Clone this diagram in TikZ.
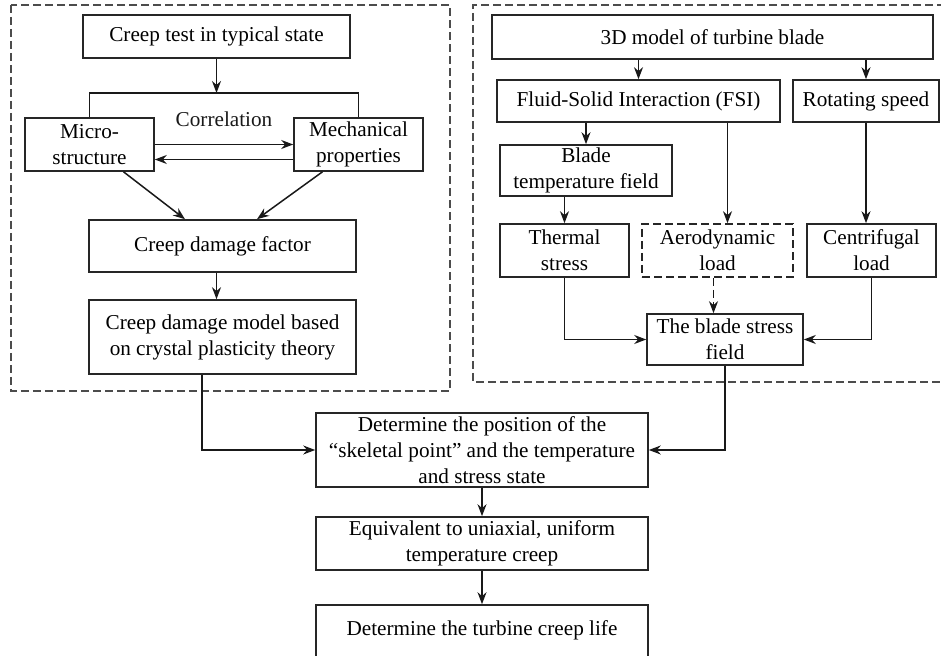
\documentclass[tikz,border=0pt]{standalone}
\usepackage{fontspec}
\setmainfont{Liberation Serif}
\usetikzlibrary{arrows.meta}

\begin{document}
\begin{tikzpicture}[x=0.5pt,y=-0.5pt,>={Stealth[length=6pt,width=4.5pt]}]

  \useasboundingbox (0,0) rectangle (941,656);

  % node styles
  \tikzstyle{Box}=[
  draw=black!85,
  line width=0.8pt,
  font=\fontsize{10.6}{13}\selectfont,
  align=center,
  inner sep=0pt,
  shape=rectangle]

  \tikzstyle{Label}=[font=\fontsize{10.6}{13}\selectfont]
  \tikzstyle{Frame}=[draw=black!70,line width=0.8pt,dash pattern=on 4pt off 2pt]
  \tikzstyle{Link}=[->,line width=0.75pt,black!90]

  % dashed frames
  \draw[Frame] (11,5) rectangle (450,391);
  \draw[Frame] (945,5) -- (473,5) -- (473,382) -- (945,382);

  % left part
  \node[Box,minimum width=133.5pt,minimum height=21.5pt] (test)   at (216.5,36.5) {Creep test in typical state};
  \node[Box,minimum width=64.5pt, minimum height=26.5pt] (micro)  at (89.5,144.5) {Micro-\\structure};
  \node[Box,minimum width=64.5pt, minimum height=26.5pt] (mech)   at (358.5,144.5) {Mechanical\\properties};
  \node[Box,minimum width=133.5pt,minimum height=26pt]   (factor) at (222.5,246) {Creep damage factor};
  \node[Box,minimum width=133.5pt,minimum height=37pt]   (model)  at (222.5,337) {Creep damage model based\\on crystal plasticity theory};

  % right part
  \node[Box,minimum width=220.5pt,minimum height=22pt]   (blade)   at (712.5,37) {3D model of turbine blade};
  \node[Box,minimum width=141.5pt,minimum height=21pt]   (fsi)     at (638.5,101) {Fluid-Solid Interaction (FSI)};
  \node[Box,minimum width=73pt,   minimum height=21pt]   (rot)     at (866,101) {Rotating speed};
  \node[Box,minimum width=86pt,   minimum height=25.5pt] (btemp)   at (586,170.5) {Blade\\temperature field};
  \node[Box,minimum width=64.5pt, minimum height=26.5pt] (thermal) at (564.5,250.5) {Thermal\\stress};
  \node[Box,minimum width=75.5pt, minimum height=26.5pt,dash pattern=on 4pt off 2pt] (aero) at (717.5,250.5) {Aerodynamic\\load};
  \node[Box,minimum width=64.5pt, minimum height=26.5pt] (centri)  at (871.5,250.5) {Centrifugal\\load};
  \node[Box,minimum width=78pt,   minimum height=25.5pt] (field)   at (725,339.5) {The blade stress\\field};

  % bottom part
  \node[Box,minimum width=166pt,minimum height=37pt]   (det)   at (482,450) {Determine the position of the\\“skeletal point” and the temperature\\and stress state};
  \node[Box,minimum width=166pt,minimum height=26.5pt] (equiv) at (482,543.5) {Equivalent to uniaxial, uniform\\temperature creep};
  \node[Box,minimum width=166pt,minimum height=28pt,text depth=5pt] (life) at (482,633) {Determine the turbine creep life};

  % left links
  \coordinate (split) at (216.5,93);
  \draw[Link] (test) -- (split);
  \draw[line width=0.75pt,black!90] (micro.north) |- (split) -| (mech.north);
  \draw[Link] (micro.east) -- (mech.west) node[midway,above=5pt,Label] {Correlation};
  \draw[Link] ([yshift=-7.5pt]mech.west) -- ([yshift=-7.5pt]micro.east);
  \draw[Link] ([xshift=17pt]micro.south) -- ([xshift=-18.75pt]factor.north);
  \draw[Link] ([xshift=-18pt]mech.south) -- ([xshift=17.25pt]factor.north);
  \draw[Link] (factor.south -| test) -- (model.north -| test);
  \draw[Link] ([xshift=-10.25pt]model.south) |- (det.west);

  % right links
  \coordinate (aeroin) at ([xshift=5pt]aero.north);
  \draw[Link] (blade.south -| fsi) -- (fsi.north);
  \draw[Link] (blade.south -| rot) -- (rot.north);
  \draw[Link] (fsi.south -| btemp) -- (btemp.north);
  \draw[Link] (btemp.south -| thermal) -- (thermal.north);
  \draw[Link] (fsi.south -| aeroin) -- (aeroin);
  \draw[Link] (rot.south) -- (rot.south |- centri.north);
  \draw[Link,dash pattern=on 4pt off 2pt] ([xshift=-2pt]aero.south) -- ([xshift=-2pt]aero.south |- field.north);
  \draw[Link] (thermal.south) |- (field.west);
  \draw[Link] (centri.south) |- (field.east);
  \draw[Link] (field.south) |- (det.east);

  % bottom links
  \draw[Link] (det) -- (equiv);
  \draw[Link] (equiv) -- (life);

\end{tikzpicture}
\end{document}
